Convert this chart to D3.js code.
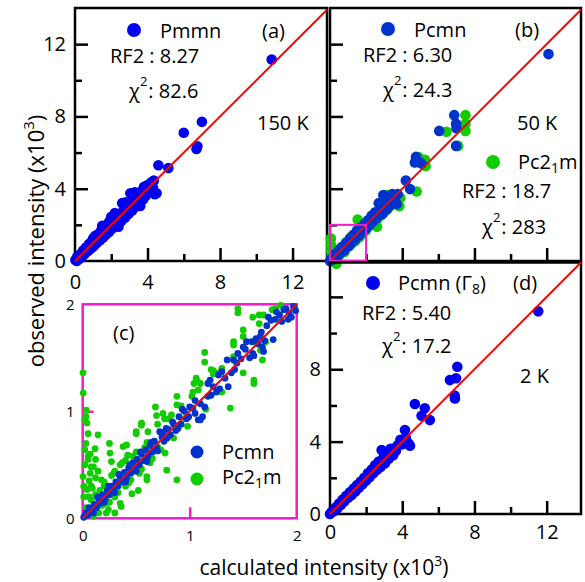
<!DOCTYPE html>
<html><head><meta charset="utf-8">
<script src="https://cdn.jsdelivr.net/npm/d3@7"></script>
<style>body{margin:0;background:#fff}</style>
</head><body><svg id="c" width="585" height="582"></svg>
<script>
// ---------- data (x = calculated, y = observed, x10^3) ----------
const ticksMajor = [4, 8, 12];
const ticksMinor = [2, 6, 10];
const ticksC = [0, 1, 2];

const pmmn150 = [
[0.02,0.05],[0.1,0.0],[0.12,0.22],[0.25,0.12],[0.3,0.38],[0.4,0.25],[0.45,0.58],[0.55,0.42],[0.6,0.75],[0.72,0.55],
[0.78,0.95],[0.9,0.7],[0.95,1.12],[1.05,0.85],[1.12,1.4],[1.2,1.0],[1.3,1.5],[1.38,1.15],[1.45,1.7],[1.55,1.3],
[1.6,1.85],[1.7,1.45],[1.75,2.0],[1.88,1.6],[1.9,2.2],[2.05,1.8],[2.1,2.3],[2.2,1.95],[2.3,2.45],[2.38,2.1],
[2.45,2.6],[2.55,2.2],[2.6,3.2],[2.65,2.75],[2.75,2.4],[2.85,2.95],[2.95,2.6],[3.05,3.75],[3.05,3.2],[3.15,2.8],
[3.25,3.35],[3.35,3.0],[3.45,3.6],[3.55,3.2],[3.65,3.85],[3.75,3.4],[3.8,4.1],[3.9,3.6],[4.0,4.2],[4.1,3.85],
[4.2,4.35],[4.3,4.05],[4.4,3.7],[4.5,3.75],[4.35,4.45],[4.6,5.3],[5.15,5.15],[6.0,7.1],[6.7,6.2],[6.75,6.35],
[7.0,7.7],[10.85,11.15],[1.0,1.25],[1.5,1.95],[2.0,2.45],[2.2,2.65],[2.8,3.25],[3.3,3.8],[3.6,3.05],[2.4,1.9]
];

const pc21m50 = [
[0.05,1.25],[0.05,0.9],[0.05,0.55],[0.1,0.3],[0.35,-0.15],[0.3,0.1],[0.5,0.3],[0.6,0.75],[0.8,0.5],[0.9,1.05],
[1.1,0.85],[1.2,1.35],[1.4,1.1],[1.53,2.3],[1.6,1.3],[1.8,1.5],[2.0,1.7],[2.2,1.95],[2.4,2.1],[2.6,1.9],
[2.6,2.3],[2.8,2.5],[3.0,2.7],[3.2,3.65],[3.3,3.0],[3.5,3.2],[3.84,3.03],[3.9,3.5],[4.8,3.85],[4.9,5.75],
[5.26,5.6],[5.3,5.25],[6.45,7.15],[7.1,6.37],[7.5,7.2],[7.5,7.6],[7.5,8.07]
];

const pcmn50 = [
[0.0,0.0],[0.1,0.15],[0.2,0.1],[0.3,0.4],[0.4,0.25],[0.5,0.6],[0.6,0.45],[0.7,0.8],[0.8,0.6],[0.9,1.0],
[1.0,0.8],[1.1,1.25],[1.2,1.0],[1.3,1.45],[1.4,1.2],[1.5,1.7],[1.6,1.4],[1.7,1.85],[1.8,1.6],[1.9,2.05],
[2.0,1.8],[2.1,2.25],[2.2,2.0],[2.3,2.5],[2.4,2.2],[2.5,2.7],[2.6,2.4],[2.7,3.2],[2.8,2.9],[2.9,2.6],
[2.95,3.65],[3.05,3.3],[3.15,2.85],[3.25,3.5],[3.35,3.1],[3.45,3.7],[3.6,3.3],[3.7,3.15],[3.75,3.7],[4.2,4.45],
[4.43,3.98],[4.7,5.45],[4.76,5.76],[5.07,5.4],[6.05,7.2],[6.88,8.07],[6.98,7.6],[7.0,7.35],[6.98,6.37],[12.1,11.45]
];

const pcmnG8_2K = [
[0.0,0.0],[0.1,0.12],[0.2,0.15],[0.3,0.35],[0.4,0.3],[0.5,0.58],[0.6,0.5],[0.7,0.8],[0.8,0.7],[0.9,1.0],
[1.0,0.9],[1.1,1.2],[1.2,1.05],[1.3,1.4],[1.4,1.25],[1.5,1.6],[1.6,1.45],[1.7,1.8],[1.8,1.65],[1.9,2.0],
[2.0,1.85],[2.1,2.25],[2.2,2.05],[2.3,2.45],[2.4,2.25],[2.5,2.7],[2.6,2.45],[2.7,2.9],[2.8,2.6],[2.86,3.54],
[2.95,3.1],[3.05,2.8],[3.15,3.4],[3.25,3.05],[3.35,3.6],[3.5,3.6],[3.5,3.25],[3.65,3.5],[3.75,3.8],[3.9,4.1],
[4.0,3.85],[4.15,4.64],[4.2,4.2],[4.35,3.9],[4.43,3.77],[4.7,6.08],[5.07,5.43],[5.25,5.84],[5.53,5.19],[6.64,7.4],
[6.98,7.5],[7.05,8.14],[6.92,6.39],[6.9,6.55],[11.53,11.2]
];

// zoom (c): 0..2 x10^3
const pc21mZoom = [
[0.003,1.36],[0.005,1.17],[0.03,0.95],[0.04,0.89],[0.034,1.01],[0.02,0.92],[0.05,0.79],[0.02,0.64],[0.05,0.55],[0.003,0.39],
[0.04,0.27],[0.08,0.17],[0.02,0.5],[0.01,0.2],[0.03,0.1],[0.06,0.35],[0.07,0.42],[0.1,0.48],[0.09,0.28],[0.12,0.22],
[0.05,0.05],[0.1,0.1],[0.13,0.11],[0.143,0.44],[0.143,0.78],[0.115,0.65],[0.05,0.58],[0.08,0.48],[0.175,0.36],[0.2,0.3],
[0.24,0.08],[0.3,0.05],[0.22,0.05],[0.36,0.11],[0.35,0.14],[0.46,0.23],[0.52,0.26],[0.6,0.36],[0.6,0.39],[0.785,0.45],
[0.88,0.36],[0.255,0.61],[0.25,0.70],[0.268,0.53],[0.29,0.42],[0.377,0.67],[0.41,0.685],[0.42,0.59],[0.5,0.79],[0.5,0.81],
[0.548,0.87],[0.55,0.89],[0.61,0.81],[0.61,0.56],[0.68,1.04],[0.69,0.96],[0.7,0.67],[0.75,0.98],[0.765,0.93],[0.77,0.61],
[0.83,0.966],[0.88,1.14],[0.88,1.06],[0.96,0.935],[1.02,1.14],[1.03,1.18],[1.04,1.26],[1.06,1.31],[1.065,1.29],[1.1,1.26],
[1.14,1.55],[1.14,1.46],[1.2,1.39],[1.22,1.38],[1.22,1.35],[1.3,1.40],[1.38,1.03],[1.41,1.65],[1.41,1.62],[1.41,1.51],
[1.45,1.96],[1.45,1.92],[1.5,1.76],[1.5,1.70],[1.5,1.36],[1.59,1.88],[1.6,1.29],[1.6,1.26],[1.61,1.65],[1.65,1.9],
[1.65,1.82],[1.66,1.57],[1.68,1.48],[1.69,1.9],[1.71,1.65],[1.77,1.95],[1.8,1.96],[1.85,1.99],
[0.15,0.05],[0.25,0.15],[0.3,0.2],[0.4,0.3],[0.45,0.36],[0.55,0.46],[0.65,0.56],[0.3,0.44],[0.4,0.54],[0.5,0.62],
[0.6,0.71],[0.2,0.34],[0.35,0.5],[0.18,0.12],[0.08,0.3],[0.12,0.38],
[0.16,0.26],[0.22,0.14],[0.27,0.4],[0.33,0.24],[0.37,0.52],[0.43,0.33],[0.47,0.58],[0.53,0.42],[0.58,0.66],[0.63,0.52],
[0.7,0.88],[0.73,0.64],[0.8,0.93],[0.85,0.75],[0.92,1.05],[0.98,0.86],[1.08,1.2],[1.15,1.02],[1.25,1.36],[1.3,1.18],
[0.03,0.7],[0.07,0.6],[0.1,0.02],[0.06,0.2],[0.01,0.3],[0.12,0.55]
];

const pcmnZoom = [
[0.01,0.01],[0.03,0.05],[0.05,0.03],[0.07,0.09],[0.09,0.06],[0.11,0.13],[0.13,0.1],[0.15,0.18],[0.17,0.14],[0.19,0.22],
[0.21,0.18],[0.23,0.26],[0.25,0.22],[0.27,0.3],[0.29,0.26],[0.31,0.34],[0.33,0.3],[0.35,0.39],[0.37,0.34],[0.39,0.43],
[0.41,0.38],[0.43,0.47],[0.45,0.42],[0.47,0.52],[0.49,0.46],[0.51,0.55],[0.53,0.5],[0.55,0.6],[0.57,0.54],[0.59,0.64],
[0.61,0.58],[0.63,0.68],[0.65,0.62],[0.67,0.72],[0.69,0.66],[0.72,0.81],[0.74,0.76],[0.76,0.72],[0.78,0.84],[0.8,0.83],
[0.82,0.78],[0.85,0.88],[0.87,0.82],[0.9,0.95],[0.92,0.88],[0.95,1.0],[0.97,0.93],[1.0,1.04],[1.03,1.03],[1.05,0.98],
[1.08,0.92],[1.1,1.07],[1.12,0.95],[1.14,1.04],[1.17,1.14],[1.19,1.29],[1.22,1.23],[1.25,1.18],[1.28,1.21],[1.3,1.37],
[1.33,1.31],[1.35,1.48],[1.36,1.23],[1.39,1.36],[1.41,1.48],[1.44,1.45],[1.45,1.54],[1.48,1.49],[1.5,1.6],[1.53,1.65],
[1.56,1.5],[1.58,1.65],[1.59,1.54],[1.62,1.68],[1.64,1.63],[1.66,1.7],[1.67,1.74],[1.68,1.6],[1.69,1.56],[1.72,1.8],
[1.735,1.88],[1.76,1.85],[1.78,1.67],[1.81,1.93],[1.84,1.9],[1.86,1.84],[1.88,1.95],[1.9,1.96],[1.93,1.92],[1.95,1.88],
[1.97,1.98],[1.99,1.94],[1.6,1.52],[1.17,1.26],[1.1,0.92],
[0.06,0.1],[0.1,0.05],[0.14,0.2],[0.2,0.15],[0.24,0.3],[0.3,0.24],[0.34,0.41],[0.4,0.34],[0.44,0.5],[0.5,0.44],
[0.54,0.62],[0.6,0.53],[0.64,0.71],[0.7,0.63],[0.75,0.8],[0.79,0.75],[0.84,0.9],[0.89,0.84],[0.93,1.02],[0.99,0.95],
[1.05,1.1],[1.2,1.15],[1.27,1.34],[1.42,1.39],[1.52,1.58],[1.7,1.66],[1.8,1.86],[1.92,1.86]
];

// ---------- drawing ----------
const FONT = "'Open Sans', sans-serif";
const BLUE = "#0000f0", BLUE2 = "#0033cc", GREEN = "#11cc00", MAG = "#f21dc8", RED = "#ff0000";
const svg = d3.select("#c").style("font-family", FONT);

const xA = d3.scaleLinear().domain([0, 13.9]).range([75, 327]);
const yA = d3.scaleLinear().domain([0, 14]).range([261, 8]);
const xB = d3.scaleLinear().domain([0, 13.9]).range([330, 581]);
const yB = d3.scaleLinear().domain([0, 14]).range([261, 8]);
const xD = d3.scaleLinear().domain([0, 13.9]).range([330, 581]);
const yD = d3.scaleLinear().domain([0, 13.9]).range([514, 262.5]);
const xC = d3.scaleLinear().domain([0, 2]).range([82.7, 296.7]);
const yC = d3.scaleLinear().domain([0, 2]).range([518.3, 304.3]);

function frame(x, y, color) {
  const [x0, x1] = x.range(), [y0, y1] = y.range();
  svg.append("rect").attr("x", x0).attr("y", y1).attr("width", x1 - x0).attr("height", y0 - y1)
    .attr("fill", "none").attr("stroke", color).attr("stroke-width", 2.5);
}
function tickSet(axis, vals, len, tr, color) {
  const g = svg.append("g").attr("transform", tr)
    .call(axis.tickValues(vals).tickSize(-len).tickSizeOuter(0).tickFormat(""));
  g.select(".domain").remove();
  g.selectAll(".tick line").attr("stroke", color).attr("stroke-width", 2.5);
}
function labelSet(axis, vals, pad, tr, fs) {
  const g = svg.append("g").attr("transform", tr)
    .call(axis.tickValues(vals).tickSize(0).tickPadding(pad).tickFormat(d3.format("d")));
  g.select(".domain").remove();
  g.selectAll("text").style("font-family", FONT).style("font-size", fs + "px").attr("fill", "#000");
}
function bigTicks(x, y) {
  const y0 = y.range()[0], x0 = x.range()[0];
  tickSet(d3.axisBottom(x), ticksMajor, 13, `translate(0,${y0})`, "#000");
  tickSet(d3.axisBottom(x), ticksMinor, 7, `translate(0,${y0})`, "#000");
  tickSet(d3.axisLeft(y), ticksMajor, 13, `translate(${x0},0)`, "#000");
  tickSet(d3.axisLeft(y), ticksMinor, 7, `translate(${x0},0)`, "#000");
}
function dots(data, x, y, r, color) {
  svg.append("g").selectAll("circle").data(data).join("circle")
    .attr("cx", d => x(d[0])).attr("cy", d => y(d[1])).attr("r", r).attr("fill", color);
}
function diag(x, y, hi) {
  svg.append("line").attr("x1", x(0)).attr("y1", y(0)).attr("x2", x(hi)).attr("y2", y(hi))
    .attr("stroke", RED).attr("stroke-width", 2);
}
function txt(x, y, s, fs, anchor) {
  return svg.append("text").attr("x", x).attr("y", y).attr("font-size", fs)
    .attr("text-anchor", anchor || "start").attr("fill", "#000").text(s);
}
function chi(x, y, val) {
  const t = svg.append("text").attr("x", x).attr("y", y).attr("font-size", 20).attr("fill", "#000");
  t.append("tspan").text("\u03C7");
  t.append("tspan").attr("font-size", 13).attr("dy", -12).text("2");
  t.append("tspan").attr("dy", 12).attr("dx", 1).text(": " + val);
}
function pc21m(x, y, fs) {
  const t = svg.append("text").attr("x", x).attr("y", y).attr("font-size", fs).attr("fill", "#000");
  t.append("tspan").text("Pc2");
  t.append("tspan").attr("font-size", fs * 0.7).attr("dy", 4).text("1");
  t.append("tspan").attr("dy", -4).text("m");
}

// ----- panel (a)
frame(xA, yA, "#000");
bigTicks(xA, yA);
labelSet(d3.axisBottom(xA), [0].concat(ticksMajor), 14, `translate(0,${yA(0)})`, 20);
labelSet(d3.axisLeft(yA), [0].concat(ticksMajor), 9, `translate(${xA(0)},0)`, 20);
dots(pmmn150, xA, yA, 5.3, BLUE);
diag(xA, yA, 13.9);
svg.append("circle").attr("cx", 134).attr("cy", 30).attr("r", 7).attr("fill", BLUE);
txt(160, 38, "Pmmn", 20);
txt(262, 38, "(a)", 20);
txt(110, 63, "RF2 : 8.27", 20);
chi(129, 98, "82.6");
txt(257, 130, "150 K", 20);

// ----- panel (b)
frame(xB, yB, "#000");
bigTicks(xB, yB);
dots(pc21m50, xB, yB, 5.3, GREEN);
dots(pcmn50, xB, yB, 5.3, BLUE2);
diag(xB, yB, 13.9);
svg.append("rect").attr("x", xB(0)).attr("y", yB(2)).attr("width", xB(2) - xB(0)).attr("height", yB(0) - yB(2))
  .attr("fill", "none").attr("stroke", MAG).attr("stroke-width", 2);
svg.append("circle").attr("cx", 388).attr("cy", 29).attr("r", 7).attr("fill", BLUE2);
txt(414, 37, "Pcmn", 20);
txt(515, 37, "(b)", 20);
txt(363, 62, "RF2 : 6.30", 20);
chi(383, 97, "24.3");
txt(517, 130, "50 K", 20);
svg.append("circle").attr("cx", 493).attr("cy", 162).attr("r", 7).attr("fill", GREEN);
pc21m(518, 169, 20);
txt(462, 198, "RF2 : 18.7", 20);
chi(482, 234, "283");

// ----- panel (d)
frame(xD, yD, "#000");
bigTicks(xD, yD);
labelSet(d3.axisBottom(xD), [0].concat(ticksMajor), 11, `translate(0,${yD(0)})`, 20);
labelSet(d3.axisLeft(yD), [0].concat(ticksMajor.slice(0, 2)), 9, `translate(${xD(0)},0)`, 20);
dots(pcmnG8_2K, xD, yD, 5.3, BLUE);
diag(xD, yD, 13.9);
svg.append("circle").attr("cx", 373).attr("cy", 283).attr("r", 7).attr("fill", BLUE);
{
  const t = svg.append("text").attr("x", 398).attr("y", 290).attr("font-size", 20).attr("fill", "#000");
  t.append("tspan").text("Pcmn (\u0393");
  t.append("tspan").attr("font-size", 14).attr("dy", 4).text("8");
  t.append("tspan").attr("dy", -4).text(")");
}
txt(513, 290, "(d)", 20);
txt(362, 320, "RF2 : 5.40", 20);
chi(382, 353, "17.2");
txt(520, 383, "2 K", 20);

// ----- panel (c)
frame(xC, yC, MAG);
tickSet(d3.axisBottom(xC), [1], 11, `translate(0,${yC(0)})`, MAG);
tickSet(d3.axisLeft(yC), [1], 11, `translate(${xC(0)},0)`, MAG);
labelSet(d3.axisBottom(xC), ticksC, 12, `translate(0,${yC(0)})`, 15);
labelSet(d3.axisLeft(yC), ticksC, 8, `translate(${xC(0)},0)`, 15);
dots(pc21mZoom, xC, yC, 3.4, GREEN);
dots(pcmnZoom, xC, yC, 3.4, BLUE2);
diag(xC, yC, 2);
txt(113, 340, "(c)", 20);
svg.append("circle").attr("cx", 197).attr("cy", 452).attr("r", 6.5).attr("fill", BLUE2);
txt(222, 459, "Pcmn", 20);
svg.append("circle").attr("cx", 197).attr("cy", 479).attr("r", 6.5).attr("fill", GREEN);
pc21m(222, 484, 20);

// ----- axis titles
{
  const t = svg.append("text").attr("transform", "translate(44,241) rotate(-90)")
    .attr("text-anchor", "middle").attr("font-size", 22).attr("fill", "#000");
  t.append("tspan").text("observed intensity (x10");
  t.append("tspan").attr("font-size", 15).attr("dy", -10).text("3");
  t.append("tspan").attr("dy", 10).text(")");
  const b = svg.append("text").attr("x", 324).attr("y", 575)
    .attr("text-anchor", "middle").attr("font-size", 21).attr("fill", "#000");
  b.append("tspan").text("calculated intensity (x10");
  b.append("tspan").attr("font-size", 14).attr("dy", -9).text("3");
  b.append("tspan").attr("dy", 9).text(")");
}
</script></body></html>
